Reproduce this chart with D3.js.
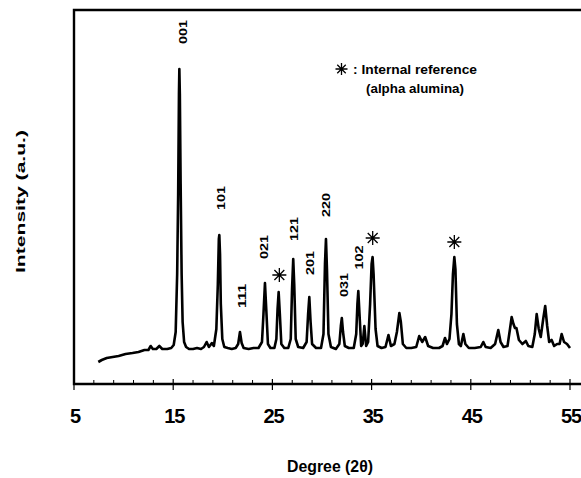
<!DOCTYPE html>
<html>
<head>
<meta charset="utf-8">
<script src="https://cdn.jsdelivr.net/npm/d3@7"></script>
<style>
  body { margin: 0; background: #fff; }
  svg { display: block; }
  text { font-family: "Liberation Sans", Arial, sans-serif; font-weight: bold; fill: #000; }
</style>
</head>
<body>
<svg id="chart" width="581" height="478"></svg>
<script>
// XRD pattern: [2theta (deg), intensity (a.u.)]
const profile = [
  [7.45,22],[7.8,24],[8.3,26],[8.9,27],[9.5,28],[10.2,30],[10.9,31],[11.5,32],[12.1,34],[12.5,34],
  [12.73,38],[12.95,35],[13.3,35],[13.6,38],[13.9,35],[14.4,35],[14.8,36],[15.05,39],[15.25,52],
  [15.4,110],[15.5,190],[15.58,290],[15.62,315],[15.67,290],[15.75,200],[15.85,110],[15.95,62],
  [16.1,42],[16.3,37],[16.6,35],[17.0,35],[17.4,36],[17.8,35],[18.1,37],[18.37,42],[18.6,37],
  [18.9,41],[19.1,38],[19.35,55],[19.5,100],[19.6,145],[19.65,149],[19.72,130],[19.8,80],[19.95,45],
  [20.15,37],[20.5,36],[20.9,35],[21.3,36],[21.55,40],[21.73,52],[21.9,41],[22.1,36],[22.6,35],
  [23.1,36],[23.6,36],[23.95,42],[24.1,70],[24.25,101],[24.38,75],[24.55,40],[24.8,36],[25.2,36],
  [25.4,45],[25.52,75],[25.63,92],[25.75,70],[25.9,40],[26.2,36],[26.6,36],[26.85,45],[26.98,95],
  [27.1,125],[27.2,100],[27.35,45],[27.6,37],[28.1,36],[28.45,42],[28.6,70],[28.72,87],[28.85,62],
  [29.0,40],[29.4,36],[29.9,36],[30.15,50],[30.3,120],[30.4,145],[30.5,115],[30.65,50],[30.9,37],
  [31.4,35],[31.75,40],[31.9,58],[32.0,66],[32.12,52],[32.3,38],[32.7,36],[33.2,36],[33.45,50],
  [33.57,80],[33.66,93],[33.78,70],[33.95,38],[34.1,40],[34.27,58],[34.45,38],[34.65,42],[34.85,80],
  [35.0,120],[35.1,127],[35.2,110],[35.4,55],[35.6,38],[36.0,36],[36.4,37],[36.7,49],[36.95,38],
  [37.3,40],[37.55,52],[37.8,71],[37.95,62],[38.15,40],[38.5,36],[39.0,36],[39.5,37],[39.8,48],
  [40.1,42],[40.4,47],[40.7,38],[41.2,36],[41.8,36],[42.15,38],[42.4,46],[42.6,40],[42.85,45],
  [43.05,70],[43.2,110],[43.34,127],[43.45,115],[43.6,60],[43.8,40],[44.0,38],[44.25,50],[44.45,40],
  [44.8,36],[45.4,36],[46.0,37],[46.26,42],[46.5,37],[47.0,36],[47.45,40],[47.77,54],[48.0,42],
  [48.3,37],[48.7,38],[48.95,55],[49.12,67],[49.3,60],[49.45,56],[49.6,56],[49.85,44],[50.2,40],
  [50.55,43],[50.8,38],[51.2,37],[51.45,50],[51.64,70],[51.85,55],[52.05,47],[52.3,65],[52.5,78],
  [52.7,58],[52.9,42],[53.15,44],[53.4,38],[53.7,40],[53.95,40],[54.16,50],[54.4,42],[54.7,40],[55.0,36]
];

// hkl labels: centre of the label in data units
const peakLabels = [
  { hkl: "001", at: 16.04, level: 352 },
  { hkl: "101", at: 19.88, level: 186 },
  { hkl: "111", at: 21.94, level: 88 },
  { hkl: "021", at: 24.22, level: 137 },
  { hkl: "121", at: 27.18, level: 155 },
  { hkl: "201", at: 28.84, level: 121 },
  { hkl: "220", at: 30.42, level: 179 },
  { hkl: "031", at: 32.2, level: 99 },
  { hkl: "102", at: 33.78, level: 126.5 }
];

// alpha alumina reference peaks (asterisks)
const refMarks = [
  { at: 25.7, level: 109 },
  { at: 35.11, level: 146 },
  { at: 43.34, level: 142 }
];

const majorTicks = [5, 15, 25, 35, 45, 55];
const minorTicks = d3.range(7, 55, 2).filter(d => !majorTicks.includes(d));

const svg = d3.select("#chart");
const plotLeft = 74, plotRight = 570, plotTop = 10, plotBottom = 384, edge = 581;

const x = d3.scaleLinear().domain([5, 55]).range([plotLeft, plotRight]);
const y = d3.scaleLinear().domain([0, 374]).range([plotBottom, plotTop]);

// frame: left, top and bottom lines
svg.append("path")
  .attr("d", `M${edge},${plotTop}H${plotLeft}V${plotBottom}H${edge}`)
  .attr("fill", "none")
  .attr("stroke", "#000")
  .attr("stroke-width", 2.4);

// ticks
svg.append("g").selectAll("line.major")
  .data(majorTicks).enter().append("line")
  .attr("class", "major")
  .attr("x1", d => x(d)).attr("x2", d => x(d))
  .attr("y1", plotBottom - 5).attr("y2", plotBottom + 6)
  .attr("stroke", "#000").attr("stroke-width", 1.2);

svg.append("g").selectAll("line.minor")
  .data(minorTicks).enter().append("line")
  .attr("class", "minor")
  .attr("x1", d => x(d)).attr("x2", d => x(d))
  .attr("y1", plotBottom - 4).attr("y2", plotBottom)
  .attr("stroke", "#000").attr("stroke-width", 1);

svg.append("g").selectAll("text")
  .data(majorTicks).enter().append("text")
  .attr("x", d => x(d) + 1)
  .attr("y", 423)
  .attr("text-anchor", "middle")
  .attr("font-size", 20)
  .attr("letter-spacing", -1.2)
  .text(d => d);

// pattern
const line = d3.line()
  .x(d => x(d[0]))
  .y(d => y(d[1]));

svg.append("path")
  .datum(profile)
  .attr("d", line)
  .attr("fill", "none")
  .attr("stroke", "#000")
  .attr("stroke-width", 2.6)
  .attr("stroke-linejoin", "round");

// hkl labels
svg.append("g").selectAll("text")
  .data(peakLabels).enter().append("text")
  .attr("transform", d => `translate(${x(d.at)},${y(d.level)}) rotate(-90)`)
  .attr("text-anchor", "middle")
  .attr("dy", "0.36em")
  .attr("font-size", 10.5)
  .attr("textLength", 24)
  .attr("lengthAdjust", "spacingAndGlyphs")
  .text(d => d.hkl);

// asterisk marker
function star(g, cx, cy, r) {
  const d = [0, 45, 90, 135].map(a => {
    const t = a * Math.PI / 180;
    return `M${cx - r * Math.cos(t)},${cy - r * Math.sin(t)}L${cx + r * Math.cos(t)},${cy + r * Math.sin(t)}`;
  }).join("");
  g.append("path").attr("d", d).attr("stroke", "#000").attr("stroke-width", 1.3).attr("fill", "none");
}

const marks = svg.append("g");
refMarks.forEach(m => star(marks, x(m.at), y(m.level), 7));

// legend
star(svg, 341.5, 69, 6);
svg.append("text")
  .attr("x", 353).attr("y", 74)
  .attr("font-size", 13)
  .attr("textLength", 124)
  .attr("lengthAdjust", "spacingAndGlyphs")
  .text(": Internal reference");
svg.append("text")
  .attr("x", 366).attr("y", 93)
  .attr("font-size", 13)
  .attr("textLength", 98)
  .attr("lengthAdjust", "spacingAndGlyphs")
  .text("(alpha alumina)");

// axis titles
svg.append("text")
  .attr("transform", "translate(24.5,201.5) rotate(-90)")
  .attr("text-anchor", "middle")
  .attr("font-size", 12.5)
  .attr("textLength", 143)
  .attr("lengthAdjust", "spacingAndGlyphs")
  .text("Intensity (a.u.)");

svg.append("text")
  .attr("x", 330).attr("y", 472)
  .attr("text-anchor", "middle")
  .attr("font-size", 16)
  .attr("textLength", 86)
  .attr("lengthAdjust", "spacingAndGlyphs")
  .text("Degree (2θ)");
</script>
</body>
</html>
